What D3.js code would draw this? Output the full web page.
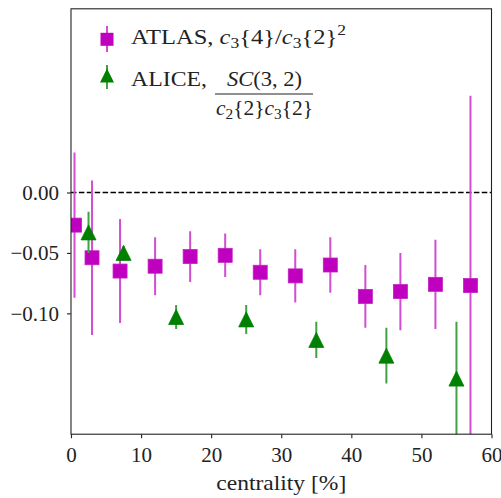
<!DOCTYPE html>
<html>
<head>
<meta charset="utf-8">
<script src="https://cdn.jsdelivr.net/npm/d3@7"></script>
<style>
  html, body { margin: 0; padding: 0; background: #fff; }
  svg { display: block; }
</style>
</head>
<body>
<svg id="chart" width="501" height="498" font-family="Liberation Serif, serif"></svg>
<script>
// ATLAS c3{4}/c3{2}^2 versus centrality
const atlasCentrality = [0.5, 3, 7, 12, 17, 22, 27, 32, 37, 42, 47, 52, 57];
const atlasValue      = [-0.027, -0.054, -0.065, -0.061, -0.053, -0.052, -0.066, -0.069, -0.060, -0.086, -0.082, -0.076, -0.077];
const atlasError      = [0.060, 0.064, 0.043, 0.024, 0.021, 0.018, 0.019, 0.022, 0.023, 0.026, 0.032, 0.037, 0.157];

// ALICE normalised symmetric cumulant SC(3,2)/(c2{2}c3{2})
const aliceCentrality = [2.5, 7.5, 15, 25, 35, 45, 55];
const aliceValue      = [-0.033, -0.050, -0.103, -0.105, -0.122, -0.135, -0.154];
const aliceError      = [0.017, 0.006, 0.010, 0.012, 0.015, 0.023, 0.047];

const xTicks = [0, 10, 20, 30, 40, 50, 60];
const yTicks = [0.00, -0.05, -0.10];

const serif = "Liberation Serif, serif";
const svg = d3.select("#chart");
const plotLeft = 71, plotRight = 491.5, plotTop = 8.8, plotBottom = 434.2;

const x = d3.scaleLinear().domain([0, 60]).range([plotLeft, plotRight]);
const y = d3.scaleLinear().domain([-0.2, 0.152]).range([plotBottom, plotTop]);

const magenta = "#bf00bf", magentaBar = "#d24dd2";
const green = "#008000", greenBar = "#42a142";

svg.append("defs").append("clipPath").attr("id", "plotClip")
  .append("rect").attr("x", plotLeft).attr("y", plotTop)
  .attr("width", plotRight - plotLeft).attr("height", plotBottom - plotTop);

// zero reference line
svg.append("line")
  .attr("x1", plotLeft).attr("x2", plotRight)
  .attr("y1", y(0)).attr("y2", y(0))
  .attr("stroke", "#000").attr("stroke-width", 1.4)
  .attr("stroke-dasharray", "5.5,2.4");

const plot = svg.append("g").attr("clip-path", "url(#plotClip)");

const atlas = atlasCentrality.map((c, i) => ({ c, v: atlasValue[i], e: atlasError[i] }));
const alice = aliceCentrality.map((c, i) => ({ c, v: aliceValue[i], e: aliceError[i] }));

// ATLAS error bars and squares
plot.append("g").selectAll("line").data(atlas).join("line")
  .attr("x1", d => x(d.c)).attr("x2", d => x(d.c))
  .attr("y1", d => y(d.v + d.e)).attr("y2", d => y(d.v - d.e))
  .attr("stroke", magentaBar).attr("stroke-width", 2);
const sq = 14;
plot.append("g").selectAll("rect").data(atlas).join("rect")
  .attr("x", d => x(d.c) - sq / 2).attr("y", d => y(d.v) - sq / 2)
  .attr("width", sq).attr("height", sq)
  .attr("fill", magenta).attr("stroke", "#c41ec4").attr("stroke-width", 0.8);

// ALICE error bars and triangles
plot.append("g").selectAll("line").data(alice).join("line")
  .attr("x1", d => x(d.c)).attr("x2", d => x(d.c))
  .attr("y1", d => y(d.v + d.e)).attr("y2", d => y(d.v - d.e))
  .attr("stroke", greenBar).attr("stroke-width", 2);
const tri = 15;
const triPath = (cx, cy, s) =>
  `M${cx},${cy - s / 2}L${cx + s / 2},${cy + s / 2}L${cx - s / 2},${cy + s / 2}Z`;
plot.append("g").selectAll("path").data(alice).join("path")
  .attr("d", d => triPath(x(d.c), y(d.v), tri))
  .attr("fill", green).attr("stroke", green).attr("stroke-width", 0.8);

// frame
svg.append("rect")
  .attr("x", plotLeft).attr("y", plotTop)
  .attr("width", plotRight - plotLeft).attr("height", plotBottom - plotTop)
  .attr("fill", "none").attr("stroke", "#222").attr("stroke-width", 1.1);

// axes
const fmt = d => (d < 0 ? "\u2212" : "") + Math.abs(d).toFixed(2);
const yAxis = svg.append("g").attr("transform", `translate(${plotLeft},0)`)
  .call(d3.axisLeft(y).tickValues(yTicks).tickFormat(fmt).tickSize(4).tickPadding(8));
const xAxis = svg.append("g").attr("transform", `translate(0,${plotBottom})`)
  .call(d3.axisBottom(x).tickValues(xTicks).tickFormat(d3.format("d")).tickSize(4).tickPadding(9));
[xAxis, yAxis].forEach(a => {
  a.attr("font-family", serif).attr("font-size", 21);
  a.select(".domain").remove();
  a.selectAll(".tick line").attr("stroke", "#222").attr("stroke-width", 1.1);
  a.selectAll(".tick text").attr("fill", "#222");
});

svg.append("text")
  .attr("x", (plotLeft + plotRight) / 2).attr("y", 490)
  .attr("text-anchor", "middle").attr("font-size", 22).attr("fill", "#222")
  .attr("font-family", serif)
  .attr("textLength", 130).attr("lengthAdjust", "spacingAndGlyphs")
  .text("centrality [%]");

// legend
const lg = svg.append("g").attr("font-size", 21).attr("fill", "#222").attr("font-family", serif);
lg.append("line").attr("x1", 107).attr("x2", 107).attr("y1", 26).attr("y2", 52)
  .attr("stroke", magentaBar).attr("stroke-width", 2);
lg.append("rect").attr("x", 107 - 6.5).attr("y", 39.3 - 6.5).attr("width", 13).attr("height", 13)
  .attr("fill", magenta);
lg.append("line").attr("x1", 107).attr("x2", 107).attr("y1", 65).attr("y2", 89)
  .attr("stroke", greenBar).attr("stroke-width", 2);
lg.append("path").attr("d", triPath(107, 75.5, 14)).attr("fill", green);

const t1 = lg.append("text").attr("x", 131).attr("y", 44)
  .attr("textLength", 215).attr("lengthAdjust", "spacingAndGlyphs");
t1.append("tspan").text("ATLAS, ");
t1.append("tspan").attr("font-style", "italic").text("c");
t1.append("tspan").attr("font-size", 15).attr("dy", 4).text("3");
t1.append("tspan").attr("dy", -4).text("{4}/");
t1.append("tspan").attr("font-style", "italic").text("c");
t1.append("tspan").attr("font-size", 15).attr("dy", 4).text("3");
t1.append("tspan").attr("dy", -4).text("{2}");
t1.append("tspan").attr("font-size", 15).attr("dy", -9).text("2");

lg.append("text").attr("x", 131).attr("y", 86)
  .attr("textLength", 76).attr("lengthAdjust", "spacingAndGlyphs").text("ALICE,");

const num = lg.append("text").attr("x", 264.5).attr("y", 86).attr("text-anchor", "middle")
  .attr("textLength", 75).attr("lengthAdjust", "spacingAndGlyphs");
num.append("tspan").attr("font-style", "italic").text("SC");
num.append("tspan").text("(3, 2)");

lg.append("line").attr("x1", 215).attr("x2", 313).attr("y1", 94).attr("y2", 94)
  .attr("stroke", "#222").attr("stroke-width", 1.1);

const den = lg.append("text").attr("x", 216).attr("y", 115)
  .attr("textLength", 97).attr("lengthAdjust", "spacingAndGlyphs");
den.append("tspan").attr("font-style", "italic").text("c");
den.append("tspan").attr("font-size", 15).attr("dy", 4).text("2");
den.append("tspan").attr("dy", -4).text("{2}");
den.append("tspan").attr("font-style", "italic").text("c");
den.append("tspan").attr("font-size", 15).attr("dy", 4).text("3");
den.append("tspan").attr("dy", -4).text("{2}");
</script>
</body>
</html>
